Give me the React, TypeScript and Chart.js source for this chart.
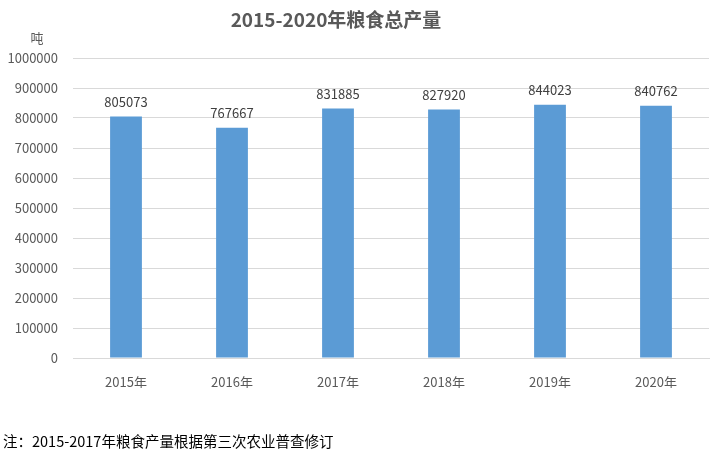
import React, { useEffect, useRef } from "react";
import { Chart, registerables } from "chart.js";

Chart.register(...registerables);

const categories = ["2015年", "2016年", "2017年", "2018年", "2019年", "2020年"];
const production = [805073, 767667, 831885, 827920, 844023, 840762];
const titleText = "2015-2020年粮食总产量";
const unitText = "吨";
const noteText = "注：2015-2017年粮食产量根据第三次农业普查修订";

const FONT = "'Noto Sans CJK SC', 'Noto Sans', sans-serif";
const TEXT = "#595959";

const extrasPlugin = {
  id: "extras",
  afterDatasetsDraw(chart: any) {
    const ctx = chart.ctx;
    ctx.save();
    ctx.fillStyle = "#404040";
    ctx.font = `13px ${FONT}`;
    ctx.textAlign = "center";
    ctx.textBaseline = "bottom";
    const meta = chart.getDatasetMeta(0);
    meta.data.forEach((bar: any, i: number) => {
      ctx.fillText(String(production[i]), bar.x, bar.y - 8);
    });
    ctx.fillStyle = TEXT;
    ctx.font = `bold 19px ${FONT}`;
    ctx.textBaseline = "middle";
    ctx.fillText(titleText, 336, 20);
    ctx.font = `13px ${FONT}`;
    ctx.fillText(unitText, 37, 38);
    ctx.fillStyle = "#000000";
    ctx.textAlign = "left";
    ctx.font = `14.5px ${FONT}`;
    ctx.fillText(noteText, 3, 441);
    ctx.restore();
  },
};

export default function App() {
  const ref = useRef<HTMLCanvasElement | null>(null);
  useEffect(() => {
    if (!ref.current) return;
    const chart = new Chart(ref.current, {
      type: "bar",
      data: {
        labels: categories,
        datasets: [
          {
            data: production,
            backgroundColor: "#5B9BD5",
            barPercentage: 0.6,
            categoryPercentage: 0.5,
          },
        ],
      },
      options: {
        animation: false,
        responsive: false,
        maintainAspectRatio: false,
        layout: { padding: { top: 58, bottom: 67, left: 0, right: 5 } },
        plugins: {
          legend: { display: false },
          title: { display: false },
          tooltip: { enabled: false },
        },
        scales: {
          x: {
            grid: { display: false },
            border: { color: "#D9D9D9" },
            ticks: { color: TEXT, font: { family: FONT, size: 13 }, padding: 8 },
            afterFit(scale: any) {
              scale.height = 30;
            },
          },
          y: {
            min: 0,
            max: 1000000,
            grid: { color: "#D9D9D9", drawTicks: false },
            border: { display: false },
            ticks: {
              stepSize: 100000,
              color: TEXT,
              font: { family: FONT, size: 13 },
              padding: 15,
              callback: (v: any) => String(v),
            },
            afterFit(scale: any) {
              scale.width = 73;
            },
          },
        },
      },
      plugins: [extrasPlugin],
    } as any);
    return () => chart.destroy();
  }, []);
  return (
    <canvas
      ref={ref}
      width={714}
      height={455}
      style={{ position: "absolute", left: 0, top: 0, width: 714, height: 455 }}
    />
  );
}
